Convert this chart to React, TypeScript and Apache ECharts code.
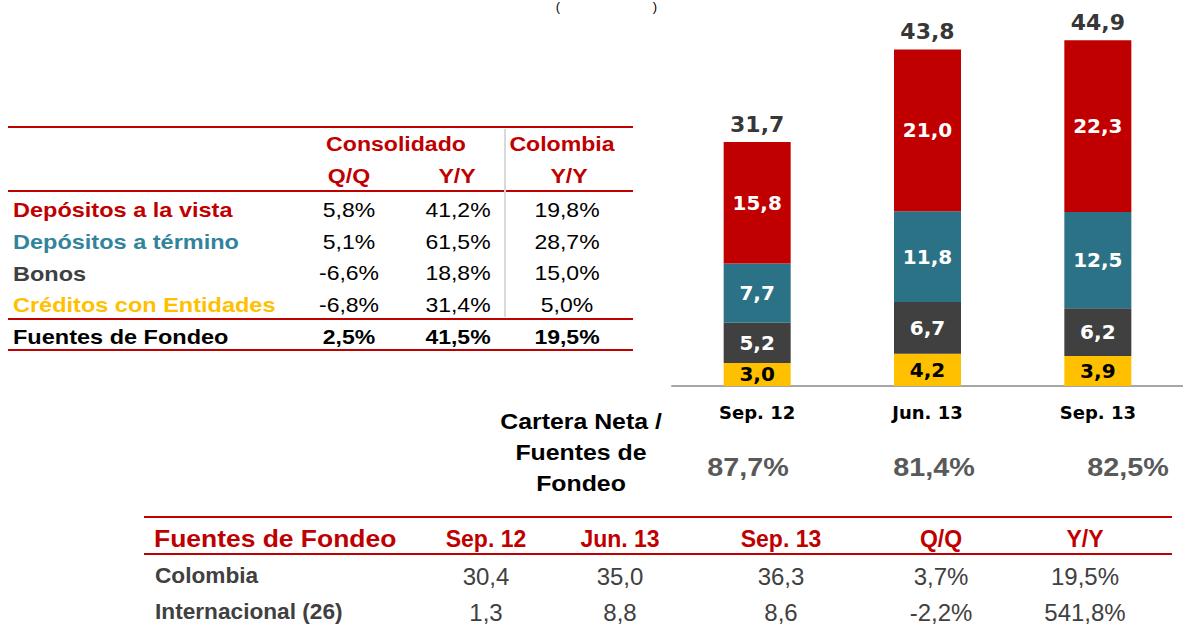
import React, { useEffect, useRef } from "react";
import * as echarts from "echarts";

// ---- Chart data ----
const categories = ["Sep. 12", "Jun. 13", "Sep. 13"];
const creditos = [3.0, 4.2, 3.9];
const bonos = [5.2, 6.7, 6.2];
const termino = [7.7, 11.8, 12.5];
const vista = [15.8, 21.0, 22.3];
const totals = [31.7, 43.8, 44.9];
const carteraRatio = [87.7, 81.4, 82.5];

// ---- Left table ----
const leftRowLabels = [
  "Depósitos a la vista",
  "Depósitos a término",
  "Bonos",
  "Créditos con Entidades",
  "Fuentes de Fondeo",
];
const consolidadoQQ = [5.8, 5.1, -6.6, -6.8, 2.5];
const consolidadoYY = [41.2, 61.5, 18.8, 31.4, 41.5];
const colombiaYY = [19.8, 28.7, 15.0, 5.0, 19.5];

// ---- Bottom table ----
const bottomHeaders = ["Fuentes de Fondeo", "Sep. 12", "Jun. 13", "Sep. 13", "Q/Q", "Y/Y"];
const bottomRowLabels = ["Colombia", "Internacional (26)"];
const colombiaFondeo = [30.4, 35.0, 36.3];
const internacionalFondeo = [1.3, 8.8, 8.6];
const bottomQQ = [3.7, -2.2];
const bottomYY = [19.5, 541.8];

const RED = "#C00000";
const TEAL_BAR = "#2C7286";
const TEAL_TXT = "#31849B";
const DARK = "#404040";
const YELLOW = "#FFC000";
const ARIAL = "'Liberation Sans', Arial, sans-serif";
const DEJAVU = "'DejaVu Sans', sans-serif";

const fmt = (v: number) => v.toFixed(1).replace(".", ",");
const pct = (v: number) => fmt(v) + "%";

type TOpt = {
  size: number;
  color: string;
  bold?: boolean;
  sx?: number;
  align?: string;
  family?: string;
};

const txt = (text: string, x: number, y: number, o: TOpt) => ({
  type: "text",
  x,
  y,
  scaleX: o.sx ?? 1,
  silent: true,
  style: {
    text,
    x: 0,
    y: 0,
    fill: o.color,
    fontSize: o.size,
    fontWeight: o.bold ? "bold" : "normal",
    fontFamily: o.family ?? ARIAL,
    align: o.align ?? "center",
    verticalAlign: "middle",
  },
});

const hline = (x1: number, x2: number, y: number, color: string, w = 2) => ({
  type: "line",
  silent: true,
  shape: { x1, y1: y, x2, y2: y },
  style: { stroke: color, lineWidth: w },
});

function buildGraphics() {
  const g: any[] = [];
  // title parentheses (the title itself lies above the visible area)
  g.push(txt("(", 558, 6, { size: 13, color: "#000" }));
  g.push(txt(")", 655, 6, { size: 13, color: "#000" }));

  // left table
  g.push(hline(8, 633, 127, RED));
  g.push(hline(8, 633, 191, RED));
  g.push(hline(8, 633, 319, RED));
  g.push(hline(8, 633, 350, RED));
  g.push({
    type: "line",
    silent: true,
    shape: { x1: 505, y1: 129, x2: 505, y2: 317 },
    style: { stroke: "#d9d9d9", lineWidth: 2 },
  });
  const hdr = { size: 21, color: RED, bold: true, sx: 1.1 };
  g.push(txt("Consolidado", 396, 144, hdr));
  g.push(txt("Colombia", 562, 144, hdr));
  g.push(txt("Q/Q", 349, 176, hdr));
  g.push(txt("Y/Y", 457, 176, hdr));
  g.push(txt("Y/Y", 569, 176, hdr));
  const rowColors = [RED, TEAL_TXT, DARK, YELLOW, "#000"];
  const rowY = [210, 241.7, 273.5, 305.3, 337];
  leftRowLabels.forEach((lab, i) => {
    g.push(txt(lab, 13, rowY[i], { size: 21, color: rowColors[i], bold: true, sx: 1.12, align: "left" }));
    const bold = i === leftRowLabels.length - 1;
    const vo = { size: 20, color: "#000", bold, sx: 1.15 };
    g.push(txt(pct(consolidadoQQ[i]), 349, rowY[i], vo));
    g.push(txt(pct(consolidadoYY[i]), 458, rowY[i], vo));
    g.push(txt(pct(colombiaYY[i]), 567, rowY[i], vo));
  });

  // middle block
  const mid = { size: 22, color: "#000", bold: true, sx: 1.13 };
  g.push(txt("Cartera Neta /", 581, 422, mid));
  g.push(txt("Fuentes de", 581, 453, mid));
  g.push(txt("Fondeo", 581, 484, mid));
  const ratioX = [748, 934, 1128];
  carteraRatio.forEach((v, i) => {
    g.push(txt(pct(v), ratioX[i], 468, { size: 25, color: "#595959", bold: true, sx: 1.15 }));
  });

  // bottom table
  g.push(hline(144, 1172, 517, RED));
  g.push(hline(144, 1172, 554, RED));
  const colX = [486, 620, 781, 941, 1085];
  g.push(txt(bottomHeaders[0], 154, 539, { size: 23, color: RED, bold: true, sx: 1.15, align: "left" }));
  bottomHeaders.slice(1).forEach((h, i) => {
    g.push(txt(h, colX[i], 539, { size: 23, color: RED, bold: true }));
  });
  const rowsY = [576, 612];
  const rowVals = [colombiaFondeo, internacionalFondeo];
  bottomRowLabels.forEach((lab, r) => {
    g.push(txt(lab, 155, rowsY[r], { size: 22, color: DARK, bold: true, sx: 1.03, align: "left" }));
    const vals = rowVals[r].map(fmt).concat([pct(bottomQQ[r]), pct(bottomYY[r])]);
    vals.forEach((v, c) => {
      g.push(txt(v, colX[c], rowsY[r], { size: 24, color: DARK }));
    });
  });
  return g;
}

export default function App() {
  const ref = useRef<HTMLDivElement>(null);
  useEffect(() => {
    if (!ref.current) return;
    const chart = echarts.init(ref.current, null, { renderer: "svg" });
    const inLabel = (color: string) => ({
      show: true,
      position: "inside",
      color,
      fontSize: 20,
      fontWeight: "bold",
      fontFamily: DEJAVU,
      formatter: (p: any) => fmt(p.value),
    });
    const barBase = { type: "bar", stack: "total", barWidth: 67 };
    chart.setOption({
      animation: false,
      backgroundColor: "#ffffff",
      grid: { left: 672, top: 1, width: 522, height: 385 },
      xAxis: {
        type: "category",
        data: categories,
        axisLine: { lineStyle: { color: "#a6a6a6", width: 2 } },
        axisTick: { show: false },
        axisLabel: {
          color: "#000",
          fontSize: 18,
          fontWeight: "bold",
          fontFamily: DEJAVU,
          margin: 17,
        },
      },
      yAxis: {
        type: "value",
        min: 0,
        max: 50,
        show: false,
        splitLine: { show: false },
      },
      series: [
        { ...barBase, name: "Créditos con Entidades", data: creditos, itemStyle: { color: YELLOW }, label: inLabel("#000") },
        { ...barBase, name: "Bonos", data: bonos, itemStyle: { color: DARK }, label: inLabel("#fff") },
        { ...barBase, name: "Depósitos a término", data: termino, itemStyle: { color: TEAL_BAR }, label: inLabel("#fff") },
        { ...barBase, name: "Depósitos a la vista", data: vista, itemStyle: { color: RED }, label: inLabel("#fff") },
        {
          type: "scatter",
          name: "Total",
          data: totals,
          symbolSize: 1,
          itemStyle: { color: "rgba(0,0,0,0)" },
          label: {
            show: true,
            position: "top",
            distance: 6,
            color: "#000",
            fontSize: 22,
            fontWeight: "bold",
            fontFamily: DEJAVU,
            formatter: (p: any) => fmt(p.value),
          },
        },
      ],
      graphic: buildGraphics(),
    });
    return () => chart.dispose();
  }, []);
  return (
    <div
      ref={ref}
      style={{ position: "absolute", left: 0, top: 0, width: 1183, height: 631, background: "#fff" }}
    />
  );
}
